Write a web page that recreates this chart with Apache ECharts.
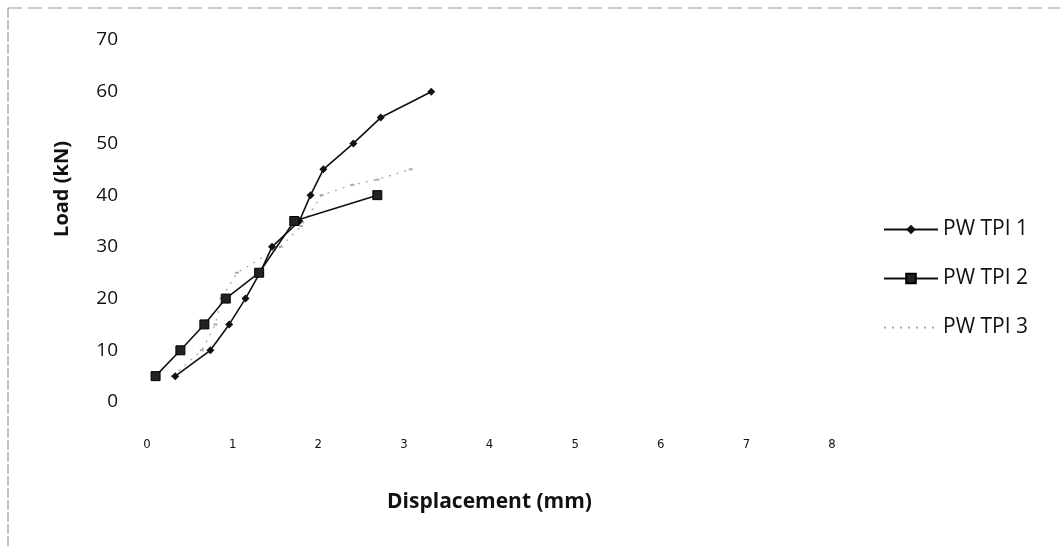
<!DOCTYPE html>
<html>
<head>
<meta charset="utf-8">
<script src="https://cdn.jsdelivr.net/npm/echarts@6/dist/echarts.min.js"></script>
<style>
html,body{margin:0;padding:0;background:#fff;}
#c{width:1060px;height:547px;}
</style>
</head>
<body>
<div id="c"></div>
<script>
// Data: [displacement mm, load kN]
const seriesNames = ["PW TPI 1", "PW TPI 2", "PW TPI 3"];
const tpi1 = [[0.33,5],[0.74,10],[0.96,15],[1.15,20],[1.32,25],[1.46,30],[1.78,35],[1.91,40],[2.06,45],[2.41,50],[2.73,55],[3.32,60]];
const tpi2 = [[0.1,5],[0.39,10],[0.67,15],[0.92,20],[1.31,25],[1.72,35],[2.69,40]];
const tpi3 = [[0.3,5],[0.64,10],[0.8,15],[0.87,20],[1.05,25],[1.56,30],[1.8,34],[2.04,40],[2.4,42],[2.69,43],[3.08,45]];
const xTicks = [0,1,2,3,4,5,6,7,8];
const yTicks = [0,10,20,30,40,50,60,70];
const xTitle = "Displacement (mm)";
const yTitle = "Load (kN)";

const chart = echarts.init(document.getElementById('c'));
const font = "'Open Sans', 'Noto Sans', sans-serif";
chart.setOption({
  backgroundColor: '#fff',
  animation: false,
  grid: {left: 147, right: 228, top: 40, bottom: 145, containLabel: false},
  xAxis: {
    type: 'value', min: xTicks[0], max: xTicks[xTicks.length-1], interval: 1,
    axisLine: {show: false}, axisTick: {show: false}, splitLine: {show: false},
    axisLabel: {margin: 36, fontSize: 13, color: '#111', fontFamily: "'Liberation Sans Narrow', 'DejaVu Sans Condensed', sans-serif"},
    name: xTitle, nameLocation: 'middle', nameGap: 90,
    nameTextStyle: {fontSize: 21, fontWeight: 'bold', color: '#111', fontFamily: font}
  },
  yAxis: {
    type: 'value', min: yTicks[0], max: yTicks[yTicks.length-1], interval: 10,
    axisLine: {show: false}, axisTick: {show: false}, splitLine: {show: false},
    axisLabel: {margin: 29, fontSize: 19, color: '#111', fontFamily: font}
  },
  legend: {
    orient: 'vertical', left: 878, top: 214, itemWidth: 54, itemHeight: 12, itemGap: 28,
    textStyle: {fontSize: 21, color: '#111', fontFamily: font},
    data: [
      {name: seriesNames[0]},
      {name: seriesNames[1]},
      {name: seriesNames[2], itemStyle: {opacity: 0}}
    ]
  },
  graphic: [
    {type: 'text', x: 62, y: 189, rotation: Math.PI/2,
     style: {text: yTitle, fontSize: 20, fontWeight: 'bold', fill: '#111', fontFamily: font, align: 'center', verticalAlign: 'middle'}},
    {type: 'line', shape: {x1: 8, y1: 8, x2: 8, y2: 547}, style: {stroke: '#888', lineWidth: 1, lineDash: [10, 2]}},
    {type: 'line', shape: {x1: 8, y1: 8, x2: 1060, y2: 8}, style: {stroke: '#999', lineWidth: 1, lineDash: [14, 6]}}
  ],
  series: [
    {name: seriesNames[0], type: 'line', data: tpi1, symbol: 'diamond', symbolSize: 8,
     lineStyle: {color: '#111', width: 1.6}, itemStyle: {color: '#111'}, z: 3},
    {name: seriesNames[1], type: 'line', data: tpi2, symbol: 'rect', symbolSize: 9,
     lineStyle: {color: '#111', width: 1.6}, itemStyle: {color: '#222', borderColor: '#000', borderWidth: 1}, z: 4},
    {name: seriesNames[2], type: 'line', data: tpi3, symbol: 'rect', symbolSize: [4, 2],
     lineStyle: {color: '#aaa', width: 1.3, type: [2, 6]}, itemStyle: {color: '#aaa'}, z: 2}
  ]
});
</script>
</body>
</html>
